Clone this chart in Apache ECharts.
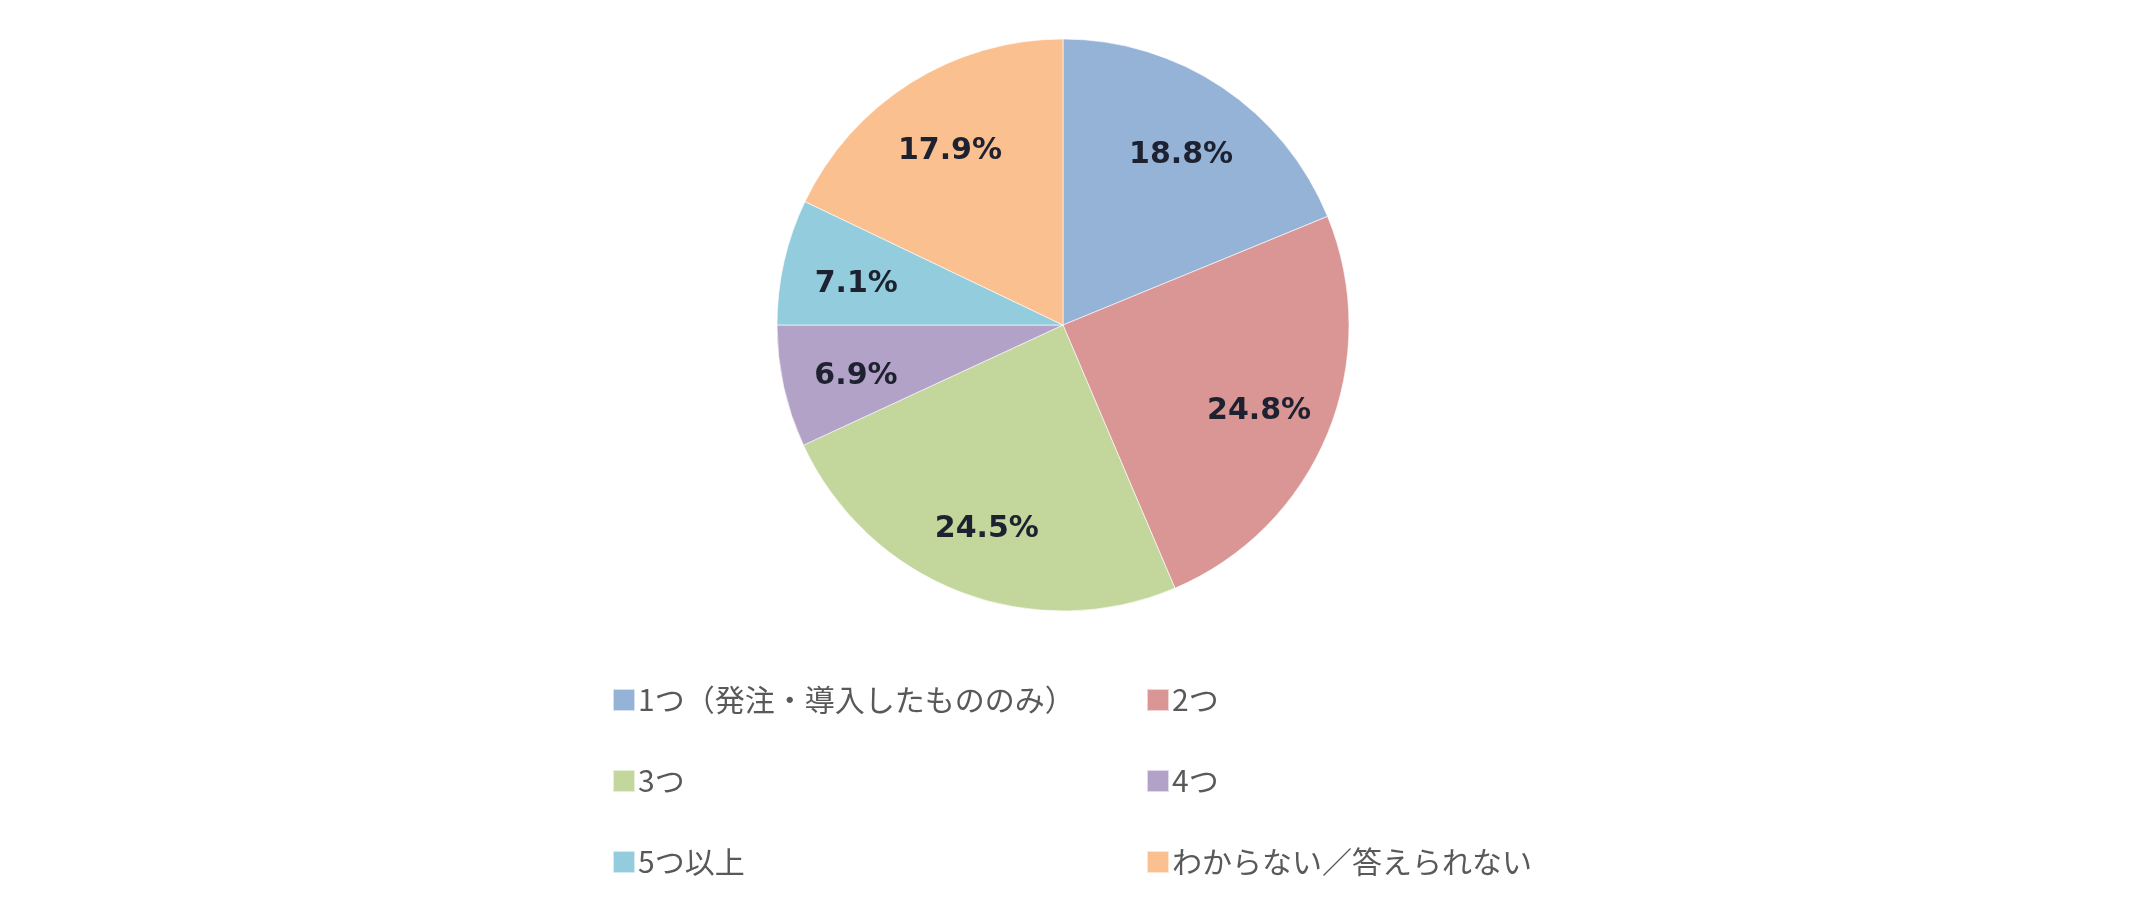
<!DOCTYPE html>
<html>
<head>
<meta charset="utf-8">
<script src="https://cdn.jsdelivr.net/npm/echarts@6/dist/echarts.min.js"></script>
<style>
  html, body { margin: 0; padding: 0; background: #fff; }
  #chart { width: 2142px; height: 914px; }
</style>
</head>
<body>
<div id="chart"></div>
<script>
// slices, clockwise from 12 o'clock
const categories = [
  '1つ（発注・導入したもののみ）',
  '2つ',
  '3つ',
  '4つ',
  '5つ以上',
  'わからない／答えられない'
]
const shares = [18.8, 24.8, 24.5, 6.9, 7.1, 17.9]
const colors = ['#95b3d7', '#d99694', '#c3d69b', '#b3a2c7', '#93cddd', '#fac090']

// legend is two columns, read row by row
const leftColumn = [0, 2, 4]
const rightColumn = [1, 3, 5]

const CENTER = [1063, 325]
const RADIUS = 286

const pieData = categories.map((name, i) => ({
  name,
  value: shares[i],
  itemStyle: { color: colors[i] }
}))

function legendBlock(idx, left) {
  return {
    orient: 'vertical',
    left,
    top: 680,
    itemWidth: 22,
    itemHeight: 22,
    itemGap: 51,
    icon: 'rect',
    selectedMode: false,
    textStyle: {
      fontFamily: '"Noto Sans CJK JP", sans-serif',
      fontSize: 30,
      lineHeight: 30,
      color: '#595959',
      padding: [0, 0, 0, -2]
    },
    data: idx.map(i => ({ name: categories[i], itemStyle: { color: colors[i] } }))
  }
}

const chart = echarts.init(document.getElementById('chart'))
chart.setOption({
  animation: false,
  backgroundColor: '#ffffff',
  legend: [legendBlock(leftColumn, 607), legendBlock(rightColumn, 1141)],
  series: [
    {
      type: 'pie',
      center: CENTER,
      radius: RADIUS,
      startAngle: 90,
      clockwise: true,
      silent: true,
      label: { show: false },
      labelLine: { show: false },
      itemStyle: { borderColor: 'rgba(255,255,255,0.6)', borderWidth: 1 },
      emphasis: { disabled: true },
      data: pieData
    },
    {
      // transparent ring so the labels sit at ~3/4 of the radius
      type: 'pie',
      center: CENTER,
      radius: [Math.round(RADIUS * 0.46), RADIUS],
      startAngle: 90,
      clockwise: true,
      silent: true,
      legendHoverLink: false,
      itemStyle: { color: 'transparent', borderWidth: 0 },
      emphasis: { disabled: true },
      label: {
        show: true,
        position: 'inside',
        formatter: p => p.value.toFixed(1) + '%',
        fontFamily: '"DejaVu Sans", Verdana, sans-serif',
        fontWeight: 'bold',
        fontSize: 30,
        color: '#1e2230',
        offset: [0, 6]
      },
      labelLine: { show: false },
      data: categories.map((name, i) => ({ name, value: shares[i] }))
    }
  ]
})
</script>
</body>
</html>
